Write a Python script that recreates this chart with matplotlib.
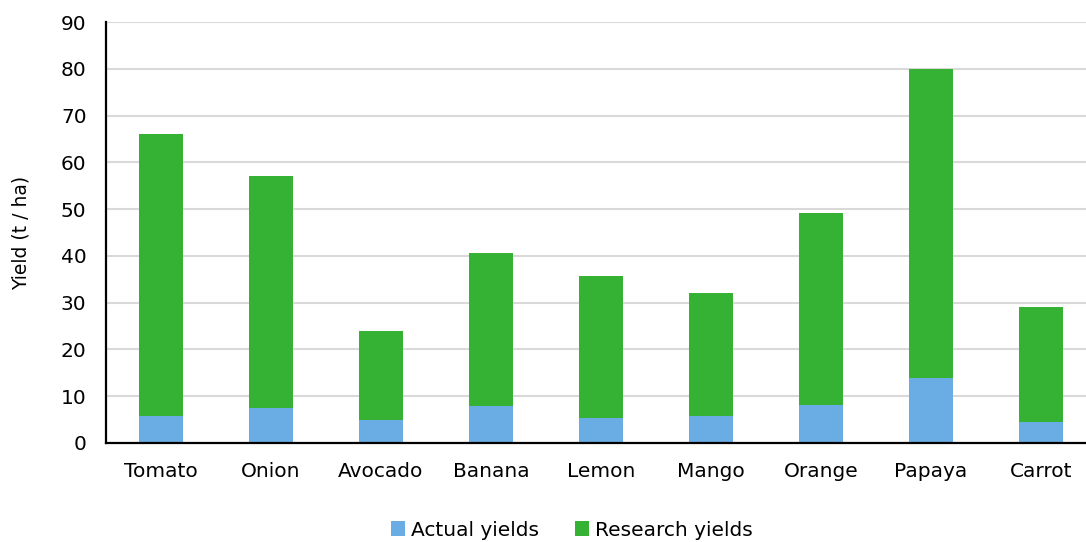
import matplotlib
matplotlib.use("Agg")
import matplotlib.pyplot as plt
import numpy as np

categories = ["Tomato", "Onion", "Avocado", "Banana", "Lemon", "Mango", "Orange", "Papaya", "Carrot"]
research_yields = [66.0, 57.0, 24.0, 40.7, 35.6, 32.0, 49.2, 80.0, 29.1]
actual_yields = [5.7, 7.4, 4.9, 8.0, 5.3, 5.7, 8.2, 14.0, 4.4]
y_ticks = [0, 10, 20, 30, 40, 50, 60, 70, 80, 90]

BLUE = "#6aace4"
GREEN = "#35b234"

plt.rcParams['font.family'] = ['DejaVu Sans']
FS = 14.5

fig = plt.figure(figsize=(10.86, 5.42), dpi=100)
W, H = 1086, 542
ax = fig.add_axes([106 / W, 99 / H, 990 / W, 421 / H])

x = np.arange(len(categories))
ax.bar(x, research_yields, width=0.4, color=GREEN, label="Research yields", zorder=2)
ax.bar(x, actual_yields, width=0.4, color=BLUE, label="Actual yields", zorder=3)

ax.set_xlim(-0.5, len(categories) - 0.5)
ax.set_ylim(0, 90)
ax.set_yticks(y_ticks)
ax.set_xticks(x)
ax.set_xticklabels(categories)
ax.tick_params(axis='both', length=0, labelsize=FS, colors='#000000')
ax.tick_params(axis='y', pad=14)
ax.tick_params(axis='x', pad=14)
ax.yaxis.grid(True, color="#d9d9d9", linewidth=1.5, zorder=0)
ax.set_axisbelow(True)
for s in ["top", "right"]:
    ax.spines[s].set_visible(False)
for s in ["left", "bottom"]:
    ax.spines[s].set_color("black")
    ax.spines[s].set_linewidth(1.6)
    ax.spines[s].set_zorder(4)

ax.set_ylabel("Yield (t / ha)", fontsize=FS - 1, labelpad=22)

handles, labels = ax.get_legend_handles_labels()
order = [1, 0]
fig.legend([handles[i] for i in order], [labels[i] for i in order],
           loc="center", bbox_to_anchor=(572 / W, 1 - 530 / H),
           ncol=2, frameon=False, fontsize=FS,
           handlelength=0.7, handleheight=0.7, handletextpad=0.3,
           columnspacing=1.8)

fig.savefig("out.png", dpi=100)
